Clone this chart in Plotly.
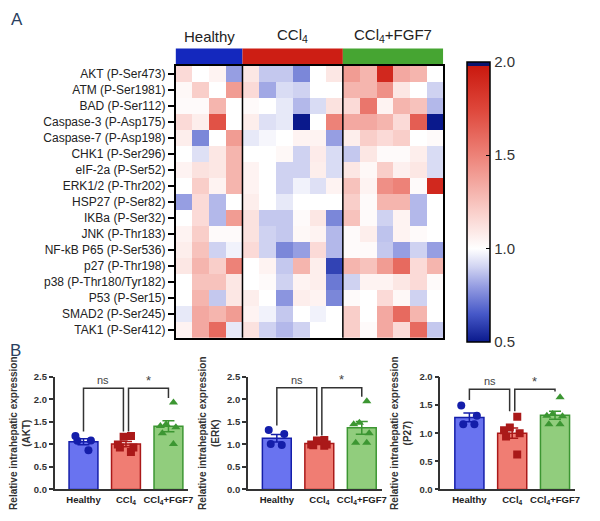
import plotly.graph_objects as go

# ---- panel A: phospho-protein heatmap ----
proteins = ["AKT (P-Ser473)", "ATM (P-Ser1981)", "BAD (P-Ser112)", "Caspase-3 (P-Asp175)",
            "Caspase-7 (P-Asp198)", "CHK1 (P-Ser296)", "eIF-2a (P-Ser52)", "ERK1/2 (P-Thr202)",
            "HSP27 (P-Ser82)", "IKBa (P-Ser32)", "JNK (P-Thr183)", "NF-kB P65 (P-Ser536)",
            "p27 (P-Thr198)", "p38 (P-Thr180/Tyr182)", "P53 (P-Ser15)", "SMAD2 (P-Ser245)",
            "TAK1 (P-Ser412)"]
groups = ["Healthy", "CCl<sub>4</sub>", "CCl<sub>4</sub>+FGF7"]
group_sizes = [4, 6, 6]
group_colors = ["rgb(20,40,190)", "rgb(205,30,20)", "rgb(70,165,50)"]

healthy = [
    [1.15, 1.00, 1.05, 0.80],
    [1.03, 1.20, 1.00, 1.40],
    [1.02, 1.02, 1.30, 1.00],
    [1.15, 1.07, 1.70, 1.00],
    [1.07, 0.75, 1.00, 1.40],
    [1.00, 0.93, 1.10, 1.30],
    [1.05, 1.12, 1.10, 1.30],
    [1.00, 1.20, 1.05, 1.30],
    [0.80, 1.15, 0.85, 1.00],
    [1.00, 1.15, 0.85, 1.40],
    [1.05, 1.20, 1.02, 1.02],
    [1.07, 1.25, 0.90, 0.97],
    [1.10, 1.30, 1.20, 1.50],
    [1.00, 1.25, 1.25, 1.10],
    [1.00, 1.30, 0.88, 1.10],
    [0.95, 1.35, 1.30, 1.40],
    [1.05, 1.35, 1.60, 0.95],
]
ccl4 = [
    [1.10, 0.88, 0.88, 0.75, 1.00, 1.10],
    [1.15, 0.82, 0.92, 0.90, 1.00, 1.00],
    [1.02, 1.00, 0.95, 0.85, 0.92, 1.12],
    [1.07, 0.93, 0.95, 0.50, 1.00, 1.50],
    [0.95, 0.98, 1.00, 1.05, 1.05, 0.80],
    [1.00, 1.00, 1.03, 0.90, 1.08, 0.92],
    [1.05, 1.00, 0.90, 0.90, 1.07, 0.92],
    [1.05, 1.00, 0.90, 0.97, 0.93, 1.05],
    [1.07, 1.00, 0.95, 1.00, 1.00, 1.00],
    [1.12, 0.88, 0.88, 1.02, 1.10, 0.75],
    [1.12, 0.90, 0.88, 1.03, 1.05, 0.85],
    [1.15, 0.90, 0.75, 0.80, 1.15, 0.85],
    [1.00, 1.05, 0.88, 1.30, 1.07, 0.60],
    [1.00, 1.02, 0.90, 1.05, 1.07, 0.72],
    [1.07, 1.00, 0.78, 1.07, 1.05, 0.75],
    [1.05, 0.97, 0.88, 1.00, 0.97, 1.00],
    [1.12, 0.90, 0.85, 0.90, 1.00, 1.00],
]
fgf7 = [
    [1.40, 1.30, 1.90, 1.35, 1.30, 1.00],
    [1.30, 1.30, 1.45, 1.10, 1.00, 0.90],
    [1.15, 1.55, 1.05, 1.30, 1.25, 0.85],
    [1.35, 1.35, 1.30, 1.15, 1.65, 0.50],
    [1.07, 1.20, 1.15, 1.20, 1.00, 1.02],
    [0.88, 1.10, 1.02, 1.02, 1.07, 0.92],
    [1.10, 1.03, 1.20, 1.06, 1.10, 0.92],
    [1.25, 1.05, 1.45, 1.50, 1.02, 1.90],
    [1.20, 1.02, 1.30, 1.30, 0.85, 1.00],
    [1.25, 1.02, 0.90, 1.05, 0.85, 1.00],
    [1.02, 1.07, 0.87, 1.05, 1.02, 1.00],
    [1.02, 1.02, 0.88, 0.80, 0.90, 0.80],
    [1.30, 1.25, 1.40, 1.60, 1.15, 1.30],
    [0.90, 1.05, 1.05, 1.10, 1.15, 1.02],
    [1.02, 1.00, 1.15, 1.03, 0.90, 1.00],
    [1.20, 1.00, 1.35, 1.60, 1.30, 1.00],
    [1.20, 1.02, 1.35, 1.15, 1.60, 0.88],
]
colorbar_ticks = [0.5, 1.0, 1.5, 2.0]

# ---- panel B: bar charts ----
bar_targets = ["AKT", "ERK", "P27"]
bar_groups = ["Healthy", "CCl<sub>4</sub>", "CCl<sub>4</sub>+FGF7"]
akt_points = [[1.19, 1.08, 1.09, 0.87],
              [1.17, 1.19, 0.83, 0.93, 0.93, 1.00],
              [1.93, 1.41, 1.45, 1.25, 1.01, 1.38]]
erk_points = [[1.23, 1.32, 0.99, 1.01],
              [1.09, 1.10, 1.00, 0.98, 1.00, 0.97],
              [1.96, 1.48, 1.45, 1.25, 1.04, 1.04]]
p27_points = [[1.49, 1.31, 1.16, 1.16],
              [1.29, 1.10, 1.00, 0.94, 0.62, 1.05],
              [1.64, 1.34, 1.30, 1.31, 1.16, 1.16]]
bar_yranges = [[0, 2.5], [0, 2.5], [0, 2.0]]
bar_ytick_step = [0.5, 0.5, 0.5]
bracket_tops = [2.25, 2.26, 1.78]
bar_fill = ["rgb(105,115,240)", "rgb(240,125,115)", "rgb(145,205,125)"]
bar_edge = ["rgb(20,30,170)", "rgb(170,25,25)", "rgb(60,150,50)"]
point_symbols = ["circle", "square", "triangle-up"]

font_family = "Arial, Liberation Sans, sans-serif"

fig = go.Figure()

z = [h + c + f for h, c, f in zip(healthy, ccl4, fgf7)]
ncols = sum(group_sizes)
colorscale = [[0.0, "rgb(10,25,140)"], [0.1, "rgb(70,88,200)"], [0.2, "rgb(150,158,226)"],
              [0.27, "rgb(210,213,242)"], [1 / 3, "rgb(255,255,255)"],
              [0.47, "rgb(249,205,200)"], [0.667, "rgb(237,130,120)"],
              [0.833, "rgb(222,70,58)"], [0.985, "rgb(202,25,15)"],
              [0.985, "rgb(10,20,110)"], [1.0, "rgb(10,20,110)"]]
fig.add_trace(go.Heatmap(
    z=z, x=list(range(ncols)), y=proteins, zmin=0.5, zmax=2.0,
    colorscale=colorscale, xaxis="x", yaxis="y",
    colorbar=dict(x=0.7757, xanchor="left", y=0.6198, yanchor="middle",
                  len=300, lenmode="pixels", thickness=23, outlinewidth=1.5,
                  outlinecolor="black", tickvals=colorbar_ticks,
                  ticktext=[f"{v:.1f}" for v in colorbar_ticks],
                  ticks="inside", ticklen=4, tickcolor="black",
                  tickfont=dict(size=15, color="#333", family=font_family)),
))

shapes = []
annotations = []
start = 0
for name, size, col in zip(groups, group_sizes, group_colors):
    shapes.append(dict(type="rect", xref="x", yref="paper", x0=start - 0.5, x1=start + size - 0.5,
                       y0=0.895, y1=0.93, fillcolor=col, line=dict(width=0), layer="below"))
    annotations.append(dict(text=name, xref="x", yref="paper", x=start + (size - 1) / 2, y=0.934,
                            yanchor="bottom", showarrow=False,
                            font=dict(size=15, color="#222", family=font_family)))
    if start > 0:
        shapes.append(dict(type="line", xref="x", yref="y domain", x0=start - 0.5, x1=start - 0.5,
                           y0=0, y1=1, line=dict(color="black", width=1.5)))
    start += size

annotations.append(dict(text="A", xref="paper", yref="paper", x=0.002, y=0.988, xanchor="left",
                        yanchor="middle", showarrow=False, font=dict(size=17, family=font_family)))
annotations.append(dict(text="B", xref="paper", yref="paper", x=0.0, y=0.3188, xanchor="left",
                        yanchor="middle", showarrow=False, font=dict(size=17, family=font_family)))

layout = dict(
    xaxis=dict(domain=[0.2894, 0.7517], range=[-0.5, ncols - 0.5], showticklabels=False,
               showgrid=False, zeroline=False, showline=True, mirror=True,
               linecolor="black", linewidth=1.5, ticks=""),
    yaxis=dict(domain=[0.3446, 0.895], autorange="reversed", showgrid=False, zeroline=False,
               showline=True, mirror=True, linecolor="black", linewidth=1.5,
               ticks="outside", ticklen=6, tickwidth=1.5, tickcolor="black",
               tickfont=dict(size=12, color="#222", family=font_family)),
)

bar_xdomains = [[0.0805, 0.3116], [0.4144, 0.6455], [0.7466, 0.9795]]
all_points = [akt_points, erk_points, p27_points]
for k, (target, pts) in enumerate(zip(bar_targets, all_points)):
    xa, ya = f"x{k + 2}", f"y{k + 2}"
    for g, vals in enumerate(pts):
        n = len(vals)
        mean = sum(vals) / n
        sd = (sum((v - mean) ** 2 for v in vals) / (n - 1)) ** 0.5
        sem = sd / n ** 0.5
        fig.add_trace(go.Bar(x=[g], y=[mean], width=0.68, xaxis=xa, yaxis=ya,
                             marker=dict(color=bar_fill[g], line=dict(color=bar_edge[g], width=1.5)),
                             error_y=dict(type="data", array=[sem], color=bar_edge[g],
                                          thickness=1.5, width=6),
                             showlegend=False))
        fig.add_trace(go.Box(x=[g] * n, y=vals, xaxis=xa, yaxis=ya, boxpoints="all",
                             jitter=0.9, pointpos=0, width=0.5,
                             fillcolor="rgba(0,0,0,0)", line=dict(width=0, color="rgba(0,0,0,0)"),
                             marker=dict(symbol=point_symbols[g], size=8, color=bar_edge[g]),
                             showlegend=False))
    # significance brackets
    top = bracket_tops[k]
    leg = [max(v) + 0.1 for v in pts]
    d = 0.06
    pad = (bar_yranges[k][1] - bar_yranges[k][0]) * 0.07
    for (a, b, la, lb, txt) in [(0, 1 - d, leg[0], leg[1], "ns"), (1 + d, 2, leg[1], leg[2], "*")]:
        shapes.append(dict(type="path", xref=xa, yref=ya,
                           path=f"M {a},{la} L {a},{top} L {b},{top} L {b},{lb}",
                           line=dict(color="#333", width=1.5)))
        annotations.append(dict(text=txt, xref=xa, yref=ya, x=(a + b) / 2, y=top + pad,
                                showarrow=False, font=dict(size=11 if txt == "ns" else 13,
                                                           color="#444", family=font_family)))
    step = bar_ytick_step[k]
    nticks = int(round((bar_yranges[k][1] - bar_yranges[k][0]) / step)) + 1
    tv = [bar_yranges[k][0] + i * step for i in range(nticks)]
    layout[f"xaxis{k + 2}"] = dict(domain=bar_xdomains[k], anchor=ya, range=[-0.68, 2.47],
                                   tickvals=[0, 1, 2], ticktext=bar_groups, showgrid=False,
                                   zeroline=False, showline=True, linecolor="#333", linewidth=1.5,
                                   ticks="", tickfont=dict(size=9.5, color="#222",
                                                           family=font_family, weight="bold"))
    layout[f"yaxis{k + 2}"] = dict(domain=[0.0376, 0.2653], anchor=xa, range=bar_yranges[k],
                                   tickvals=tv, ticktext=[f"{v:.1f}" for v in tv],
                                   showgrid=False, zeroline=False, showline=True, linecolor="#333",
                                   linewidth=1.5, ticks="outside", ticklen=4, tickwidth=1.5,
                                   tickcolor="#333",
                                   tickfont=dict(size=9.5, color="#333", family=font_family,
                                                 weight="bold"),
                                   title=dict(text=f"Relative intrahepatic expression<br>({target})",
                                              standoff=6,
                                              font=dict(size=10, color="#333", family=font_family,
                                                        weight="bold")))

fig.update_layout(**layout)
fig.update_layout(width=584, height=505, margin=dict(l=0, r=0, t=0, b=0),
                  paper_bgcolor="white", plot_bgcolor="white", barmode="overlay",
                  boxmode="overlay", shapes=shapes, annotations=annotations,
                  font=dict(family=font_family))

fig.write_html("out.html")
